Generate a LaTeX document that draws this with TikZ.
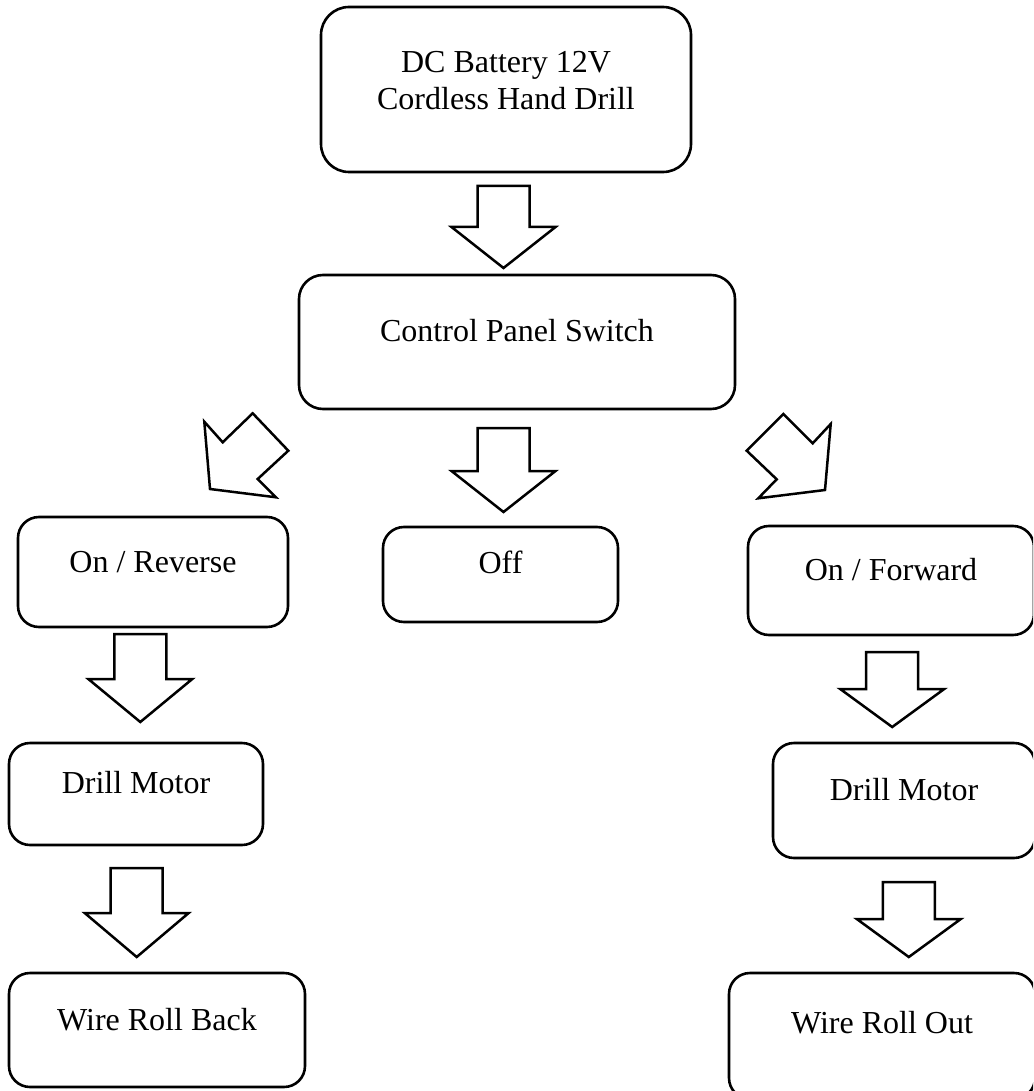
\documentclass[tikz,border=0pt]{standalone}
\usepackage{fontspec}
\setmainfont{Liberation Serif}
\begin{document}
\begin{tikzpicture}[x=1pt,y=-1pt,
  box/.style={draw, line width=2.6pt, rounded corners=21pt, inner sep=0pt},
  txt/.style={inner sep=0pt, anchor=base, font=\fontsize{32}{38}\selectfont},
  blk/.style={draw, line width=2.5pt, line join=miter, fill=white}]
\useasboundingbox (0,0) rectangle (1033,1091);
\clip (0,0) rectangle (1033,1091);
\newcommand\blockdown[4]{%
  \draw[blk] (#1-26,#2) -- (#1+26,#2) -- (#1+26,#3) -- (#1+52,#3) -- (#1,#4) -- (#1-52,#3) -- (#1-26,#3) -- cycle;}
% boxes
\node[box, rounded corners=28pt, minimum width=370pt, minimum height=165pt] (top) at (506,89.5) {};
\node[box, rounded corners=24pt, minimum width=436pt, minimum height=134pt] (ctrl) at (517,342) {};
\node[box, minimum width=270pt, minimum height=110pt] (rev) at (153,572) {};
\node[box, minimum width=235pt, minimum height=95pt] (off) at (500.5,574.5) {};
\node[box, minimum width=286pt, minimum height=109pt] (fwd) at (891,580.5) {};
\node[box, minimum width=254pt, minimum height=102pt] (dml) at (136,794) {};
\node[box, minimum width=262pt, minimum height=115pt] (dmr) at (904,800.5) {};
\node[box, minimum width=296pt, minimum height=114pt] (wrb) at (157,1030) {};
\node[box, minimum width=306pt, minimum height=126pt] (wro) at (882,1036) {};
% texts
\node[txt] (t1) at (506,72.7) {DC Battery 12V};
\node[txt] (t2) at (506,110) {Cordless Hand Drill};
\node[txt] (t3) at (517,341.7) {Control Panel Switch};
\node[txt] (t4) at (153,572) {On / Reverse};
\node[txt] (t5) at (500.5,573) {Off};
\node[txt] (t6) at (891,580) {On / Forward};
\node[txt] (t7) at (136,793) {Drill Motor};
\node[txt] (t8) at (904,800) {Drill Motor};
\node[txt] (t9) at (157,1030) {Wire Roll Back};
\node[txt] (t10) at (882,1033) {Wire Roll Out};
% block arrows
\blockdown{503.5}{186}{227}{268}
\blockdown{503.5}{428}{471}{512}
\blockdown{140.3}{634}{679}{722}
\blockdown{136.7}{868}{913}{957}
\blockdown{892.2}{652}{689}{727}
\blockdown{908.8}{882}{919}{957}
\draw[blk] (204.3,421.7) -- (222.7,442.3) -- (252.7,413.3) -- (288.3,450.7) -- (257.7,479) -- (276,497.3) -- (210,489) -- cycle;
\draw[blk] (746.7,450.7) -- (783.3,414) -- (812.7,443.3) -- (830.7,424) -- (825,490) -- (758.3,498.3) -- (776.7,479.3) -- cycle;
\end{tikzpicture}
\end{document}
